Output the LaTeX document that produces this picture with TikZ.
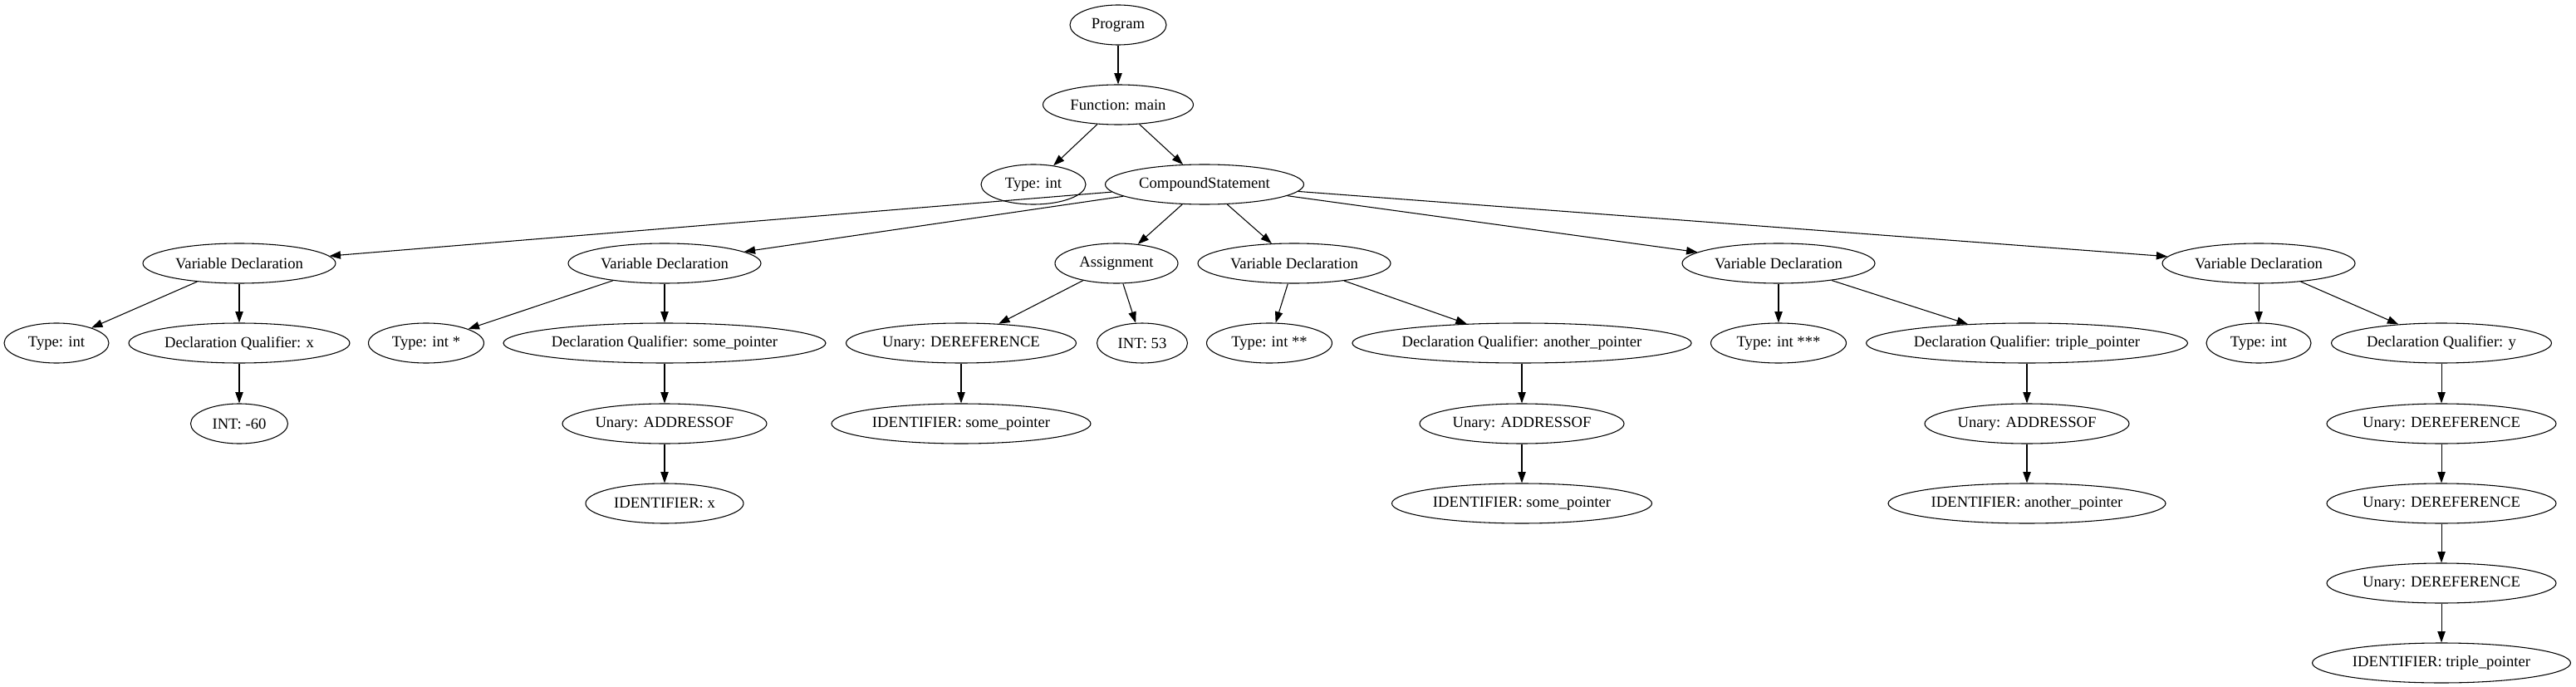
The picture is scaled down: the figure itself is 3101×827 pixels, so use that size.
\documentclass[tikz,border=0pt]{standalone}
\usepackage{fontspec}
\setmainfont{Liberation Serif}
\usetikzlibrary{shapes.geometric,arrows.meta}

\tikzset{
    ast/.style={draw, ellipse, line width=0.8pt, inner xsep=0pt, inner ysep=3pt,
        minimum width=#1*0.75pt, minimum height=36pt, font=\fontsize{14}{16}\selectfont},
    ast/.default=232,
    link/.style={-{Triangle[length=10pt,width=7pt]}, line width=0.8pt}
}

\begin{document}
\begin{tikzpicture}[x=0.75pt,y=-0.75pt]
    \useasboundingbox (0,0) rectangle (3101,827);

    % Top of the tree
    \node[ast=116] (prog) at (1346,30) {Program};
    \node[ast=181] (func) at (1346,126) {Function: main};
    \node[ast=126] (ftype) at (1244,222) {Type: int};
    \node[ast=239] (comp) at (1450,222) {CompoundStatement};

    % Statements
    \node[ast] (vd1) at (288,317) {Variable Declaration};
    \node[ast] (vd2) at (800,317) {Variable Declaration};
    \node[ast=148] (asg) at (1344,317) {Assignment};
    \node[ast] (vd3) at (1558,317) {Variable Declaration};
    \node[ast] (vd4) at (2141,317) {Variable Declaration};
    \node[ast] (vd5) at (2719,317) {Variable Declaration};

    % Types and qualifiers
    \node[ast=126] (t1) at (68,413) {Type: int};
    \node[ast=266] (dq1) at (288,413) {Declaration Qualifier: x};
    \node[ast=139] (t2) at (513,413) {Type: int *};
    \node[ast=388] (dq2) at (800,413) {Declaration Qualifier: some\_pointer};
    \node[ast=277] (deref1) at (1157,413) {Unary: DEREFERENCE};
    \node[ast=109] (int53) at (1375,413) {INT: 53};
    \node[ast=151] (t3) at (1528,413) {Type: int **};
    \node[ast=408] (dq3) at (1832,413) {Declaration Qualifier: another\_pointer};
    \node[ast=163] (t4) at (2141,413) {Type: int ***};
    \node[ast=387] (dq4) at (2440,413) {Declaration Qualifier: triple\_pointer};
    \node[ast=126] (t5) at (2719,413) {Type: int};
    \node[ast=265] (dq5) at (2939,413) {Declaration Qualifier: y};

    % Expressions
    \node[ast=117] (int60) at (288,510) {INT: -60};
    \node[ast=246] (addr1) at (800,510) {Unary: ADDRESSOF};
    \node[ast=312] (id1) at (1157,510) {IDENTIFIER: some\_pointer};
    \node[ast=246] (addr2) at (1832,510) {Unary: ADDRESSOF};
    \node[ast=246] (addr3) at (2440,510) {Unary: ADDRESSOF};
    \node[ast=276] (deref2) at (2939,510) {Unary: DEREFERENCE};
    \node[ast=190] (id2) at (800,606) {IDENTIFIER: x};
    \node[ast=313] (id3) at (1832,606) {IDENTIFIER: some\_pointer};
    \node[ast=334] (id4) at (2440,606) {IDENTIFIER: another\_pointer};
    \node[ast=276] (deref3) at (2939,606) {Unary: DEREFERENCE};
    \node[ast=276] (deref4) at (2939,702) {Unary: DEREFERENCE};
    \node[ast=311] (id5) at (2939,798) {IDENTIFIER: triple\_pointer};

    % Edges
    \draw[link] (prog) -- (func);
    \draw[link] (func) -- (ftype); \draw[link] (func) -- (comp);
    \draw[link] (comp) -- (vd1); \draw[link] (comp) -- (vd2);
    \draw[link] (comp) -- (asg); \draw[link] (comp) -- (vd3);
    \draw[link] (comp) -- (vd4); \draw[link] (comp) -- (vd5);
    \draw[link] (vd1) -- (t1); \draw[link] (vd1) -- (dq1);
    \draw[link] (dq1) -- (int60);
    \draw[link] (vd2) -- (t2); \draw[link] (vd2) -- (dq2);
    \draw[link] (dq2) -- (addr1); \draw[link] (addr1) -- (id2);
    \draw[link] (asg) -- (deref1); \draw[link] (asg) -- (int53);
    \draw[link] (deref1) -- (id1);
    \draw[link] (vd3) -- (t3); \draw[link] (vd3) -- (dq3);
    \draw[link] (dq3) -- (addr2); \draw[link] (addr2) -- (id3);
    \draw[link] (vd4) -- (t4); \draw[link] (vd4) -- (dq4);
    \draw[link] (dq4) -- (addr3); \draw[link] (addr3) -- (id4);
    \draw[link] (vd5) -- (t5); \draw[link] (vd5) -- (dq5);
    \draw[link] (dq5) -- (deref2); \draw[link] (deref2) -- (deref3);
    \draw[link] (deref3) -- (deref4); \draw[link] (deref4) -- (id5);
\end{tikzpicture}
\end{document}
